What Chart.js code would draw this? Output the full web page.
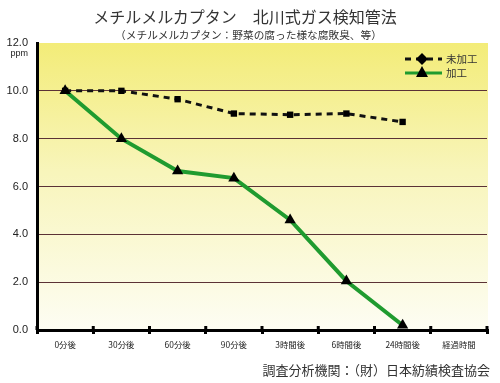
<!DOCTYPE html>
<html>
<head>
<meta charset="utf-8">
<script src="https://cdn.jsdelivr.net/npm/chart.js@4.4.1/dist/chart.umd.min.js"></script>
<style>
  html, body { margin: 0; padding: 0; background: #ffffff; }
  #wrap { position: relative; width: 500px; height: 383px; overflow: hidden; }
  #c { position: absolute; left: 0; top: 0; }
  .t { position: absolute; font-family: "Noto Sans CJK JP", sans-serif; color: #333; white-space: nowrap; }
  #title { left: 0; width: 490px; text-align: center; top: 6px; font-size: 16px; line-height: 20px; }
  #sub { left: 0; width: 497px; text-align: center; top: 28px; font-size: 10.7px; line-height: 14px; }
  #foot { right: 10px; top: 361px; font-size: 13px; line-height: 18px; }
</style>
</head>
<body>
<div id="wrap">
  <canvas id="c" width="500" height="383"></canvas>
  <div class="t" id="title">メチルメルカプタン　北川式ガス検知管法</div>
  <div class="t" id="sub">（メチルメルカプタン：野菜の腐った様な腐敗臭、等）</div>
  <div class="t" id="foot">調査分析機関：（財）日本紡績検査協会</div>
</div>
<script>
const categories = ['0分後', '30分後', '60分後', '90分後', '3時間後', '6時間後', '24時間後', '経過時間'];
const untreated = [10.0, 10.0, 9.65, 9.05, 9.0, 9.05, 8.7, null];
const treated = [10.0, 8.0, 6.65, 6.35, 4.6, 2.05, 0.2, null];
const yTicks = [0, 2, 4, 6, 8, 10, 12];
const seriesNames = ['未加工', '加工'];
const unitLabel = 'ppm';

const GREEN = '#1f9b2f';

const bgPlugin = {
  id: 'bg',
  beforeDraw(chart) {
    const { ctx, chartArea: a } = chart;
    const g = ctx.createLinearGradient(0, a.top, 0, a.bottom);
    g.addColorStop(0, '#f3ec78');
    g.addColorStop(0.45, '#f8f5bb');
    g.addColorStop(1, '#fdfdf3');
    ctx.save();
    ctx.fillStyle = g;
    ctx.fillRect(a.left, a.top, a.right - a.left + 1, a.bottom - a.top);
    ctx.restore();
  }
};

const extrasPlugin = {
  id: 'extras',
  afterDraw(chart) {
    const { ctx } = chart;
    const y = chart.scales.y;
    const x = chart.scales.x;
    ctx.save();
    // upward part of x-axis tick marks (crossing the axis)
    ctx.strokeStyle = '#000';
    ctx.lineWidth = 3;
    for (let i = 0; i <= categories.length; i++) {
      const px = x.left + (x.right - x.left) * i / categories.length;
      ctx.beginPath(); ctx.moveTo(px, y.bottom - 4); ctx.lineTo(px, y.bottom); ctx.stroke();
    }
    // unit label
    ctx.fillStyle = '#222';
    ctx.font = '9px "Liberation Sans", Arial, sans-serif';
    ctx.textAlign = 'right';
    ctx.textBaseline = 'middle';
    ctx.fillText(unitLabel, 28, y.getPixelForValue(12) + 11);
    // legend
    const lx0 = 405, lx1 = 442, mx = 422;
    const r1 = 59, r2 = 73;
    ctx.strokeStyle = '#111';
    ctx.lineWidth = 3;
    ctx.setLineDash([6, 5]);
    ctx.beginPath(); ctx.moveTo(lx0, r1); ctx.lineTo(lx1, r1); ctx.stroke();
    ctx.setLineDash([]);
    ctx.fillStyle = '#000';
    ctx.beginPath();
    ctx.moveTo(mx, r1 - 6); ctx.lineTo(mx + 6, r1); ctx.lineTo(mx, r1 + 6); ctx.lineTo(mx - 6, r1); ctx.closePath();
    ctx.fill();
    ctx.strokeStyle = GREEN;
    ctx.lineWidth = 3;
    ctx.beginPath(); ctx.moveTo(lx0, r2); ctx.lineTo(lx1, r2); ctx.stroke();
    ctx.fillStyle = '#000';
    ctx.beginPath();
    ctx.moveTo(mx, r2 - 7); ctx.lineTo(mx + 6, r2 + 4); ctx.lineTo(mx - 6, r2 + 4); ctx.closePath();
    ctx.fill();
    ctx.fillStyle = '#333';
    ctx.font = '10.5px "Noto Sans CJK JP", sans-serif';
    ctx.textAlign = 'left';
    ctx.fillText(seriesNames[0], 446, r1);
    ctx.fillText(seriesNames[1], 446, r2);
    ctx.restore();
  }
};

new Chart(document.getElementById('c'), {
  type: 'line',
  data: {
    labels: categories,
    datasets: [
      {
        label: seriesNames[0],
        data: untreated,
        order: 2,
        borderColor: '#111',
        borderWidth: 3,
        borderDash: [6, 5],
        pointStyle: 'rect',
        pointRadius: 4.5,
        pointBackgroundColor: '#000',
        pointBorderColor: '#000',
        pointBorderWidth: 0,
        tension: 0,
        clip: false
      },
      {
        label: seriesNames[1],
        data: treated,
        order: 1,
        borderColor: GREEN,
        borderWidth: 4,
        pointStyle: 'triangle',
        pointRadius: 6.5,
        pointBackgroundColor: '#000',
        pointBorderColor: '#000',
        pointBorderWidth: 0,
        tension: 0,
        clip: false
      }
    ]
  },
  options: {
    responsive: false,
    animation: false,
    devicePixelRatio: 1,
    layout: { padding: { left: 0, right: 13, top: 43, bottom: 0 } },
    plugins: { legend: { display: false }, tooltip: { enabled: false }, title: { display: false } },
    scales: {
      x: {
        type: 'category',
        offset: true,
        afterFit(s) { s.height = 53; },
        grid: {
          display: true,
          offset: true,
          drawOnChartArea: false,
          drawTicks: true,
          tickLength: 4,
          color: '#000',
          lineWidth: 3
        },
        border: { display: true, color: '#000', width: 3 },
        ticks: {
          padding: 6,
          color: '#222',
          font: { family: '"Noto Sans CJK JP", sans-serif', size: 8.4 },
          maxRotation: 0,
          autoSkip: false
        }
      },
      y: {
        min: 0,
        max: 12,
        afterFit(s) { s.width = 37; },
        afterBuildTicks(s) { s.ticks = yTicks.map(v => ({ value: v })); },
        grid: {
          drawTicks: false,
          color: (c) => (c.tick && (c.tick.value === 12 || c.tick.value === 0)) ? 'rgba(0,0,0,0)' : '#5b3236',
          lineWidth: 1
        },
        border: { display: true, color: '#000', width: 3 },
        ticks: {
          padding: 9,
          color: '#222',
          font: { family: '"Liberation Sans", Arial, sans-serif', size: 11 },
          callback: (v) => Number(v).toFixed(1)
        }
      }
    }
  },
  plugins: [bgPlugin, extrasPlugin]
});
</script>
</body>
</html>
